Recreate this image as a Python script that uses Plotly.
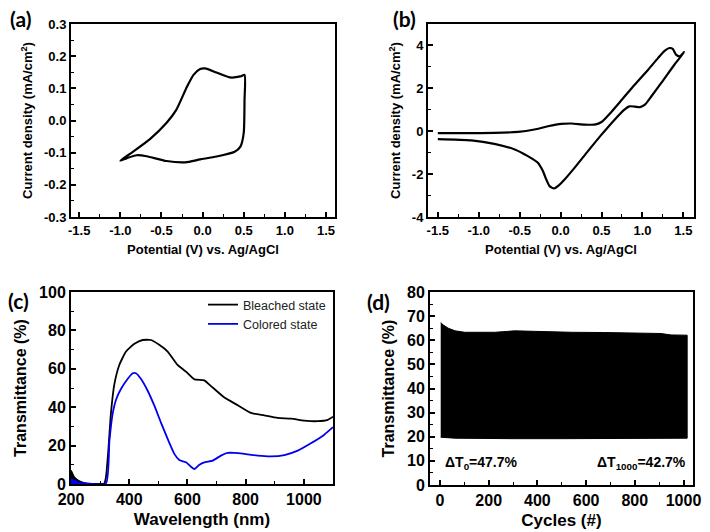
import plotly.graph_objects as go

# ---------------- data ----------------
# (a) CV of film, -1.0 .. 0.5 V
cv_a_potential = [-1.00, -0.84, -0.64, -0.44, -0.32, -0.19, -0.11, -0.03, 0.03, 0.17, 0.33, 0.46, 0.51,
                  0.51, 0.50, 0.46, 0.39, 0.17, -0.03, -0.21, -0.44, -0.68, -0.80, -0.92, -1.00]
cv_a_current = [-0.125, -0.096, -0.058, -0.008, 0.033, 0.105, 0.142, 0.160, 0.162, 0.149, 0.134, 0.137, 0.142,
                0.064, -0.039, -0.081, -0.097, -0.112, -0.121, -0.130, -0.126, -0.111, -0.108, -0.117, -0.125]

# (b) CV, -1.5 .. 1.5 V
cv_b_potential = [-1.50, -1.21, -0.81, -0.52, -0.32, -0.155, 0.008, 0.13, 0.29, 0.416, 0.50, 0.62, 0.74, 0.905,
                  1.07, 1.19, 1.27, 1.33, 1.37, 1.41, 1.455, 1.51,
                  1.39, 1.23, 1.11, 1.03, 0.97, 0.905, 0.84, 0.78, 0.66, 0.50, 0.334, 0.17, 0.049, -0.033,
                  -0.08, -0.135, -0.175, -0.216, -0.277, -0.40, -0.56, -0.81, -1.09, -1.50]
cv_b_current = [-0.09, -0.09, -0.08, -0.03, 0.08, 0.23, 0.34, 0.36, 0.31, 0.31, 0.43, 0.90, 1.43, 2.17,
                2.87, 3.41, 3.75, 3.88, 3.84, 3.57, 3.49, 3.69,
                3.10, 2.25, 1.63, 1.24, 1.12, 1.15, 1.16, 1.01, 0.54, -0.16, -0.93, -1.71, -2.25, -2.56,
                -2.67, -2.56, -2.25, -1.86, -1.47, -1.16, -0.85, -0.59, -0.43, -0.37]

# (c) transmittance spectra
wl_bleached = [200, 211, 229, 251, 314, 320, 328, 337, 349, 366, 389, 418, 446, 475, 503, 532, 566, 595,
               624, 658, 681, 727, 773, 818, 864, 910, 956, 1001, 1047, 1082, 1100]
T_bleached = [7, 3.5, 1.4, 0.3, 0.3, 3.5, 17, 36.5, 52, 62, 69, 73, 75, 75, 72.5, 69, 62, 58.5,
              54.5, 54, 51, 45, 41, 37, 35.7, 34.4, 34, 33, 32.7, 33.4, 35]
wl_colored = [200, 223, 251, 320, 332, 343, 355, 372, 395, 412, 423, 440, 463, 486, 509, 532, 555, 572,
              595, 612, 624, 641, 658, 687, 715, 738, 761, 795, 841, 887, 933, 979, 1024, 1070, 1100]
T_colored = [2.6, 0.9, 0.3, 0.3, 22.6, 36.5, 44, 49.6, 54.8, 57.7, 57.7, 54.8, 48.7, 40.9, 32, 23.5, 15.7, 12.5,
             11.3, 9, 7.8, 10, 11.3, 12.2, 14.8, 16.2, 16.2, 15.7, 14.8, 14.4, 15.1, 17.4, 21.2, 25.7, 29.6]

# (d) cycling envelope (max / min transmittance per cycle)
cyc_upper = [3, 14, 34, 62, 102, 157, 225, 307, 403, 540, 676, 813, 908, 949, 1015]
T_upper = [67.3, 66.3, 65, 63.9, 63.3, 63.2, 63.3, 63.9, 63.6, 63.3, 63.2, 62.9, 62.8, 62.2, 62.1]
cyc_lower = [3, 62, 300, 500, 700, 900, 1015]
T_lower = [19.8, 19.4, 19.2, 19.2, 19.2, 19.3, 19.4]

# tick labels
a_xticks = [-1.5, -1.0, -0.5, 0.0, 0.5, 1.0, 1.5]
a_xlabels = ["-1.5", "-1.0", "-0.5", "0.0", "0.5", "1.0", "1.5"]
a_yticks = [-0.3, -0.2, -0.1, 0.0, 0.1, 0.2, 0.3]
a_ylabels = ["-0.3", "-0.2", "-0.1", "0.0", "0.1", "0.2", "0.3"]
b_yticks = [-4, -2, 0, 2, 4]
b_ylabels = ["-4", "-2", "0", "2", "4"]
c_xticks = [200, 400, 600, 800, 1000]
c_yticks = [0, 20, 40, 60, 80, 100]
d_xticks = [0, 200, 400, 600, 800, 1000]
d_yticks = [0, 10, 20, 30, 40, 50, 60, 70, 80]

FONT = "Liberation Sans"
W, H = 710, 532

fig = go.Figure()

# (a)
fig.add_trace(go.Scatter(x=cv_a_potential, y=cv_a_current, mode="lines",
                         line=dict(color="black", width=2.2, shape="spline", smoothing=0.6),
                         showlegend=False, xaxis="x", yaxis="y"))
# (b)
fig.add_trace(go.Scatter(x=cv_b_potential, y=cv_b_current, mode="lines",
                         line=dict(color="black", width=2.2, shape="spline", smoothing=0.6),
                         showlegend=False, xaxis="x2", yaxis="y2"))
# (c) noisy UV tails
fig.add_trace(go.Scatter(x=wl_bleached[:4], y=T_bleached[:4], mode="lines", fill="tozeroy",
                         fillcolor="black", line=dict(color="black", width=1),
                         showlegend=False, xaxis="x3", yaxis="y3"))
fig.add_trace(go.Scatter(x=wl_colored[:3], y=T_colored[:3], mode="lines", fill="tozeroy",
                         fillcolor="#0000ee", line=dict(color="#0000ee", width=1),
                         showlegend=False, xaxis="x3", yaxis="y3"))
fig.add_trace(go.Scatter(x=wl_bleached, y=T_bleached, mode="lines", name="Bleached state",
                         line=dict(color="black", width=1.8, shape="spline", smoothing=0.5),
                         xaxis="x3", yaxis="y3"))
fig.add_trace(go.Scatter(x=wl_colored, y=T_colored, mode="lines", name="Colored state",
                         line=dict(color="#0000ee", width=1.8, shape="spline", smoothing=0.5),
                         xaxis="x3", yaxis="y3"))
# (d)
fig.add_trace(go.Scatter(x=cyc_upper + cyc_lower[::-1], y=T_upper + T_lower[::-1], mode="lines",
                         fill="toself", fillcolor="black", line=dict(color="black", width=1),
                         showlegend=False, xaxis="x4", yaxis="y4"))


def bold(labels):
    return ["<b>%s</b>" % s for s in labels]


def axis(domain, rng, tickvals, ticktext, minor_dtick, minor_tick0, anchor, title, tfs, lfs, standoff):
    return dict(domain=domain, range=rng, anchor=anchor,
                tickmode="array", tickvals=tickvals, ticktext=bold(ticktext),
                ticks="inside", ticklen=5, tickwidth=1.5, tickcolor="black",
                minor=dict(ticks="inside", ticklen=3, tickwidth=1.2, tickcolor="black",
                           tickmode="linear", tick0=minor_tick0, dtick=minor_dtick),
                showline=True, linecolor="black", linewidth=2, mirror=True,
                showgrid=False, zeroline=False, automargin=False,
                tickfont=dict(family=FONT, size=lfs, color="black"),
                title=dict(text="<b>%s</b>" % title, standoff=standoff,
                           font=dict(family=FONT, size=tfs, color="black")))


ya = [1 - 217 / H, 1 - 24 / H]
yc = [1 - 484 / H, 1 - 292 / H]
yd = [1 - 485 / H, 1 - 292 / H]

fig.update_layout(
    width=W, height=H, template="none",
    paper_bgcolor="white", plot_bgcolor="white",
    margin=dict(l=0, r=0, t=0, b=0),
    xaxis=axis([71 / W, 335 / W], [-1.6, 1.61], a_xticks, a_xlabels, 0.25, -1.5, "y",
               "Potential (V) vs. Ag/AgCl", 13, 13, 8),
    yaxis=axis(ya, [-0.3, 0.3], a_yticks, a_ylabels, 0.05, -0.3, "x",
               "Current density (mA/cm<sup>2</sup>)", 13, 13, 8),
    xaxis2=axis([428 / W, 694 / W], [-1.62, 1.63], a_xticks, a_xlabels, 0.25, -1.5, "y2",
                "Potential (V) vs. Ag/AgCl", 13, 13, 8),
    yaxis2=axis(ya, [-4, 5], b_yticks, b_ylabels, 1, -4, "x2",
                "Current density (mA/cm<sup>2</sup>)", 13, 13, 8),
    xaxis3=axis([71 / W, 333 / W], [200, 1100], c_xticks, [str(v) for v in c_xticks], 100, 200, "y3",
                "Wavelength (nm)", 17, 16, 6),
    yaxis3=axis(yc, [0, 100], c_yticks, [str(v) for v in c_yticks], 10, 0, "x3",
                "Transmittance (%)", 16, 16, 8),
    xaxis4=axis([430 / W, 693 / W], [-41, 1039], d_xticks, [str(v) for v in d_xticks], 100, 0, "y4",
                "Cycles (#)", 17, 16, 6),
    yaxis4=axis(yd, [0, 80], d_yticks, [str(v) for v in d_yticks], 5, 0, "x4",
                "Transmittance (%)", 16, 16, 8),
    legend=dict(x=203 / W, y=1 - 290 / H, xanchor="left", yanchor="top",
                bgcolor="rgba(0,0,0,0)", borderwidth=0, itemwidth=30, tracegroupgap=0,
                font=dict(family=FONT, size=12.5, color="#222")),
)

panel_font = dict(family="Lato", size=21, color="black")
for txt, px, py in [("(a)", 20, 18), ("(b)", 404, 18), ("(c)", 18, 300), ("(d)", 379, 301)]:
    fig.add_annotation(text="<b>%s</b>" % txt, x=px / W, y=1 - py / H, xref="paper", yref="paper",
                       showarrow=False, font=panel_font, xanchor="center", yanchor="middle")

dfont = dict(family=FONT, size=14, color="black")
fig.add_annotation(text="<b>ΔT<sub>0</sub>=47.7%</b>", x=12, y=9, xref="x4", yref="y4",
                   showarrow=False, xanchor="left", yanchor="middle", font=dfont)
fig.add_annotation(text="<b>ΔT<sub>1000</sub>=42.7%</b>", x=1017, y=9, xref="x4", yref="y4",
                   showarrow=False, xanchor="right", yanchor="middle", font=dfont)

fig.write_html("out.html", config={"displayModeBar": False},
               post_script="document.body.style.margin='0';")
